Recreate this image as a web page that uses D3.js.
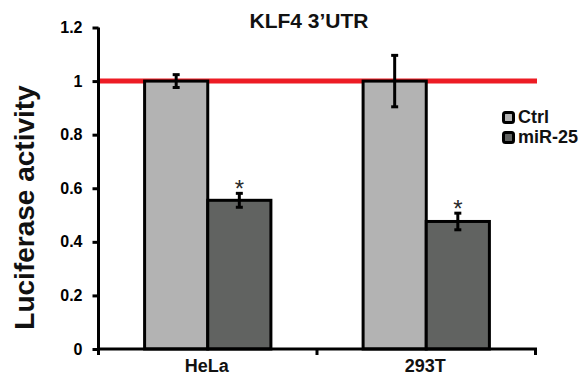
<!DOCTYPE html>
<html>
<head>
<meta charset="utf-8">
<script src="https://cdn.jsdelivr.net/npm/d3@7"></script>
<style>
  body { margin: 0; background: #fff; }
  svg { font-family: Arial, "Liberation Sans", sans-serif; }
</style>
</head>
<body>
<svg width="583" height="375"></svg>
<script>
// data
const cellLines = ['HeLa', '293T'];
const seriesNames = ['Ctrl', 'miR-25'];
const ctrlValues = [1.0, 1.0];
const ctrlErrors = [0.024, 0.096];
const mirValues = [0.555, 0.476];
const mirErrors = [0.026, 0.031];
const significant = [true, true];
const yTicks = [0, 0.2, 0.4, 0.6, 0.8, 1, 1.2];
const referenceLevel = 1;

const colors = { 'Ctrl': '#b3b3b3', 'miR-25': '#616361' };

const svg = d3.select('svg');

const y = d3.scaleLinear().domain([0, 1.2]).range([349, 27.5]);
const x = d3.scaleBand().domain(cellLines).range([98.5, 535.5]).padding(0);
const xInner = d3.scaleBand().domain(seriesNames).range([0, x.bandwidth()])
    .paddingInner(0).paddingOuter(0.73);

const rows = [];
cellLines.forEach((c, i) => {
    rows.push({ cell: c, serie: 'Ctrl', value: ctrlValues[i], err: ctrlErrors[i], star: false });
    rows.push({ cell: c, serie: 'miR-25', value: mirValues[i], err: mirErrors[i], star: significant[i] });
});

// red reference line, behind the bars
svg.append('line')
    .attr('x1', 98.5)
    .attr('x2', 537)
    .attr('y1', y(referenceLevel))
    .attr('y2', y(referenceLevel))
    .attr('stroke', '#ed1c24')
    .attr('stroke-width', 5);

const bar = svg.append('g').selectAll('g')
    .data(rows)
    .join('g')
    .attr('transform', d => `translate(${x(d.cell) + xInner(d.serie)}, 0)`);

bar.append('rect')
    .attr('x', 0)
    .attr('y', d => y(d.value))
    .attr('width', xInner.bandwidth())
    .attr('height', d => y(0) - y(d.value))
    .attr('fill', d => colors[d.serie])
    .attr('stroke', 'black')
    .attr('stroke-width', 3);

const cx = xInner.bandwidth() / 2;
bar.append('line')
    .attr('x1', cx).attr('x2', cx)
    .attr('y1', d => y(d.value + d.err))
    .attr('y2', d => y(d.value - d.err))
    .attr('stroke', 'black')
    .attr('stroke-width', 3);

bar.selectAll('line.cap')
    .data(d => [d.value + d.err, d.value - d.err])
    .join('line')
    .attr('class', 'cap')
    .attr('x1', cx - 3.5).attr('x2', cx + 3.5)
    .attr('y1', v => y(v)).attr('y2', v => y(v))
    .attr('stroke', 'black')
    .attr('stroke-width', 3);

bar.filter(d => d.star)
    .append('text')
    .text('*')
    .attr('x', cx)
    .attr('y', d => y(d.value + d.err) + 4)
    .attr('text-anchor', 'middle')
    .attr('font-size', 24)
    .attr('fill', '#2a2a2a');

// y axis
const yAxis = svg.append('g')
    .attr('transform', 'translate(98.5, 0)')
    .call(d3.axisLeft(y).tickValues(yTicks).tickSize(6).tickPadding(10)
        .tickFormat(d => d === 0 ? '0' : d3.format('.1~f')(d)));
yAxis.select('.domain').attr('stroke-width', 3).attr('d', `M0,${y(1.2)}V${y(0) + 1.5}`);
yAxis.selectAll('.tick line').attr('stroke-width', 3);
yAxis.selectAll('.tick text')
    .attr('font-size', 16)
    .attr('font-weight', 'bold')
    .attr('font-family', 'Arial, "Liberation Sans", sans-serif')
    .attr('fill', '#000');

// x axis
svg.append('line')
    .attr('x1', 97).attr('x2', 537)
    .attr('y1', y(0)).attr('y2', y(0))
    .attr('stroke', 'black')
    .attr('stroke-width', 3);

const edges = cellLines.map(c => x(c)).concat([x.range()[1]]);
svg.append('g').selectAll('line')
    .data(edges)
    .join('line')
    .attr('x1', d => d).attr('x2', d => d)
    .attr('y1', y(0)).attr('y2', y(0) + 6)
    .attr('stroke', 'black')
    .attr('stroke-width', 3);

svg.append('g').selectAll('text')
    .data(cellLines)
    .join('text')
    .text(d => d)
    .attr('x', d => x(d) + x.bandwidth() / 2 - 1)
    .attr('y', 371.5)
    .attr('text-anchor', 'middle')
    .attr('font-size', 18)
    .attr('font-weight', 'bold')
    .attr('fill', '#111');

// y label
svg.append('text')
    .text('Luciferase activity')
    .attr('transform', 'translate(33.5, 207.5) rotate(-90)')
    .attr('text-anchor', 'middle')
    .attr('font-size', 28)
    .attr('font-weight', 'bold')
    .attr('fill', '#111');

// title
svg.append('text')
    .text('KLF4 3\u2019UTR')
    .attr('x', 309)
    .attr('y', 27.5)
    .attr('text-anchor', 'middle')
    .attr('font-size', 21)
    .attr('font-weight', 'bold')
    .attr('fill', '#111');

// legend
const legend = svg.append('g').selectAll('g')
    .data(seriesNames)
    .join('g')
    .attr('transform', (d, i) => `translate(502, ${111 + i * 20})`);

legend.append('rect')
    .attr('x', 1.5).attr('y', 1.5)
    .attr('width', 10).attr('height', 10)
    .attr('rx', 2)
    .attr('fill', d => colors[d])
    .attr('stroke', 'black')
    .attr('stroke-width', 3);

legend.append('text')
    .text(d => d)
    .attr('x', 16)
    .attr('y', 12)
    .attr('font-size', 18)
    .attr('font-weight', 'bold')
    .attr('fill', '#111');
</script>
</body>
</html>
